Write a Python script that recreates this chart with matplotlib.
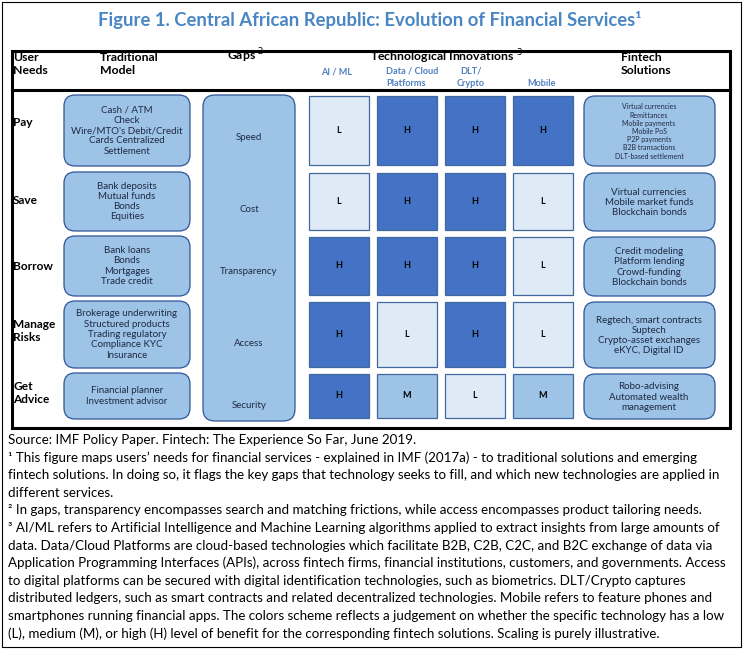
import matplotlib
matplotlib.use("Agg")
import matplotlib.pyplot as plt
from matplotlib.patches import FancyBboxPatch, Rectangle

plt.rcParams['font.family'] = ['Lato', 'DejaVu Sans']

# ---- chart content ----
title = "Figure 1. Central African Republic: Evolution of Financial Services\u00b9"

needs = ["Pay", "Save", "Borrow", "Manage\nRisks", "Get\nAdvice"]
traditional = [
    "Cash / ATM\nCheck\nWire/MTO's Debit/Credit\nCards Centralized\nSettlement",
    "Bank deposits\nMutual funds\nBonds\nEquities",
    "Bank loans\nBonds\nMortgages\nTrade credit",
    "Brokerage underwriting\nStructured products\nTrading regulatory\nCompliance KYC\nInsurance",
    "Financial planner\nInvestment advisor",
]
gaps = ["Speed", "Cost", "Transparency", "Access", "Security"]
techs = ["AI / ML", "Data / Cloud\nPlatforms", "DLT/\nCrypto", "Mobile"]
ratings = [
    ["L", "H", "H", "H"],
    ["L", "H", "H", "L"],
    ["H", "H", "H", "L"],
    ["H", "L", "H", "L"],
    ["H", "M", "L", "M"],
]
fintech = [
    "Virtual currencies\nRemittances\nMobile payments\nMobile PoS\nP2P payments\nB2B transactions\nDLT-based settlement",
    "Virtual currencies\nMobile market funds\nBlockchain bonds",
    "Credit modeling\nPlatform lending\nCrowd-funding\nBlockchain bonds",
    "Regtech, smart contracts\nSuptech\nCrypto-asset exchanges\neKYC, Digital ID",
    "Robo-advising\nAutomated wealth\nmanagement",
]
notes = [
    "Source: IMF Policy Paper. Fintech: The Experience So Far, June 2019.",
    "\u00b9 This figure maps users\u2019 needs for financial services - explained in IMF (2017a) - to traditional solutions and emerging",
    "fintech solutions. In doing so, it flags the key gaps that technology seeks to fill, and which new technologies are applied in",
    "different services.",
    "\u00b2 In gaps, transparency encompasses search and matching frictions, while access encompasses product tailoring needs.",
    "\u00b3 AI/ML refers to Artificial Intelligence and Machine Learning algorithms applied to extract insights from large amounts of",
    "data. Data/Cloud Platforms are cloud-based technologies which facilitate B2B, C2B, C2C, and B2C exchange of data via",
    "Application Programming Interfaces (APIs), across fintech firms, financial institutions, customers, and governments. Access",
    "to digital platforms can be secured with digital identification technologies, such as biometrics. DLT/Crypto captures",
    "distributed ledgers, such as smart contracts and related decentralized technologies. Mobile refers to feature phones and",
    "smartphones running financial apps. The colors scheme reflects a judgement on whether the specific technology has a low",
    "(L), medium (M), or high (H) level of benefit for the corresponding fintech solutions. Scaling is purely illustrative.",
]

# ---- layout (pixel coords, y down) ----
row_top = [95, 172, 236, 301, 373]
row_bot = [166, 231, 296, 368, 419]
need_y = [122, 200, 267, 331, 393]
gap_y = [138, 210, 272, 344, 406]
col_x0 = [309, 377, 445, 513]
col_w = 60
level_color = {"H": "#4472C4", "M": "#9DC3E6", "L": "#DEEBF7"}
box_fill = "#9DC3E6"
box_edge = "#2F5597"
txt = "#1F2A44"

fig = plt.figure(figsize=(7.45, 6.5), dpi=100)
ax = fig.add_axes([0, 0, 1, 1])
ax.set_xlim(0, 745)
ax.set_ylim(650, 0)
ax.axis('off')

# outer frame + table box
ax.add_patch(Rectangle((1.5, 2), 739, 645, fill=False, ec='black', lw=0.8))
ax.add_patch(Rectangle((12, 51), 718, 377, fill=False, ec='black', lw=2.2))
ax.plot([12, 730], [90, 90], color='black', lw=2.2)

ax.text(370, 20, title, ha='center', va='center', fontsize=13.3,
        fontweight='bold', color='#4A86C4')

# header
hdr = dict(fontsize=8.8, fontweight='bold', color='black', va='center')
ax.text(13, 64, "User\nNeeds", ha='left', linespacing=1.3, **hdr)
ax.text(100, 64, "Traditional\nModel", ha='left', linespacing=1.3, **hdr)
ax.text(227, 56, r"Gaps$\;^{2}$", ha='left', **hdr)
ax.text(370, 57, r"Technological Innovations$\;^{3}$", ha='left', **hdr)
ax.text(621, 64, "Fintech\nSolutions", ha='left', linespacing=1.3, **hdr)
sub = dict(fontsize=6.6, fontweight='bold', color='#4F7FC0', va='center',
           linespacing=1.5)
ax.text(337, 72, techs[0], ha='center', **sub)
ax.text(386, 77.5, techs[1], ha='left', **sub)
ax.text(471, 77.5, techs[2], ha='center', **sub)
ax.text(542, 83, techs[3], ha='center', **sub)

# rows
for r in range(len(needs)):
    t0, t1 = row_top[r], row_bot[r]
    ax.text(13, need_y[r], needs[r], ha='left', va='center', fontsize=8.6,
            fontweight='bold', color='black', linespacing=1.3)

    ax.add_patch(FancyBboxPatch((64, t0), 126, t1 - t0,
                                boxstyle="round,pad=0,rounding_size=11",
                                fc=box_fill, ec=box_edge, lw=0.9))
    ax.text(127, (t0 + t1) / 2, traditional[r], ha='center', va='center',
            fontsize=7, color=txt, linespacing=1.18)

    for c in range(len(techs)):
        lv = ratings[r][c]
        ax.add_patch(Rectangle((col_x0[c], t0 + 1), col_w, t1 - t0 - 2,
                               fc=level_color[lv], ec='#41689E', lw=0.9))
        ax.text(col_x0[c] + col_w / 2, (t0 + t1) / 2, lv, ha='center',
                va='center', fontsize=6.5, fontweight='bold', color='black')

    ax.add_patch(FancyBboxPatch((584, t0 + 1), 131, t1 - t0 - 1,
                                boxstyle="round,pad=0,rounding_size=11",
                                fc=box_fill, ec=box_edge, lw=0.9))
    fs = 5.0 if r == 0 else 7
    ax.text(649, (t0 + t1) / 2 + 1, fintech[r], ha='center', va='center',
            fontsize=fs, color=txt, linespacing=1.2 if r == 0 else 1.18)

# gaps column
ax.add_patch(FancyBboxPatch((203, 95), 92, 326,
                            boxstyle="round,pad=0,rounding_size=12",
                            fc=box_fill, ec=box_edge, lw=0.9))
for g, y in zip(gaps, gap_y):
    ax.text(249, y, g, ha='center', va='center', fontsize=7, color=txt)

# footnotes, sized so the longest line spans the box width
fig.canvas.draw()
rend = fig.canvas.get_renderer()
probe = ax.text(8, 0, notes[7], fontsize=10)
w = probe.get_window_extent(rend).width
probe.remove()
note_fs = 10 * 719 / w
for i, s in enumerate(notes):
    ax.text(8, 440 + i * 17.6, s, ha='left', va='center', fontsize=note_fs,
            color='black')

fig.savefig("out.png", dpi=100)
